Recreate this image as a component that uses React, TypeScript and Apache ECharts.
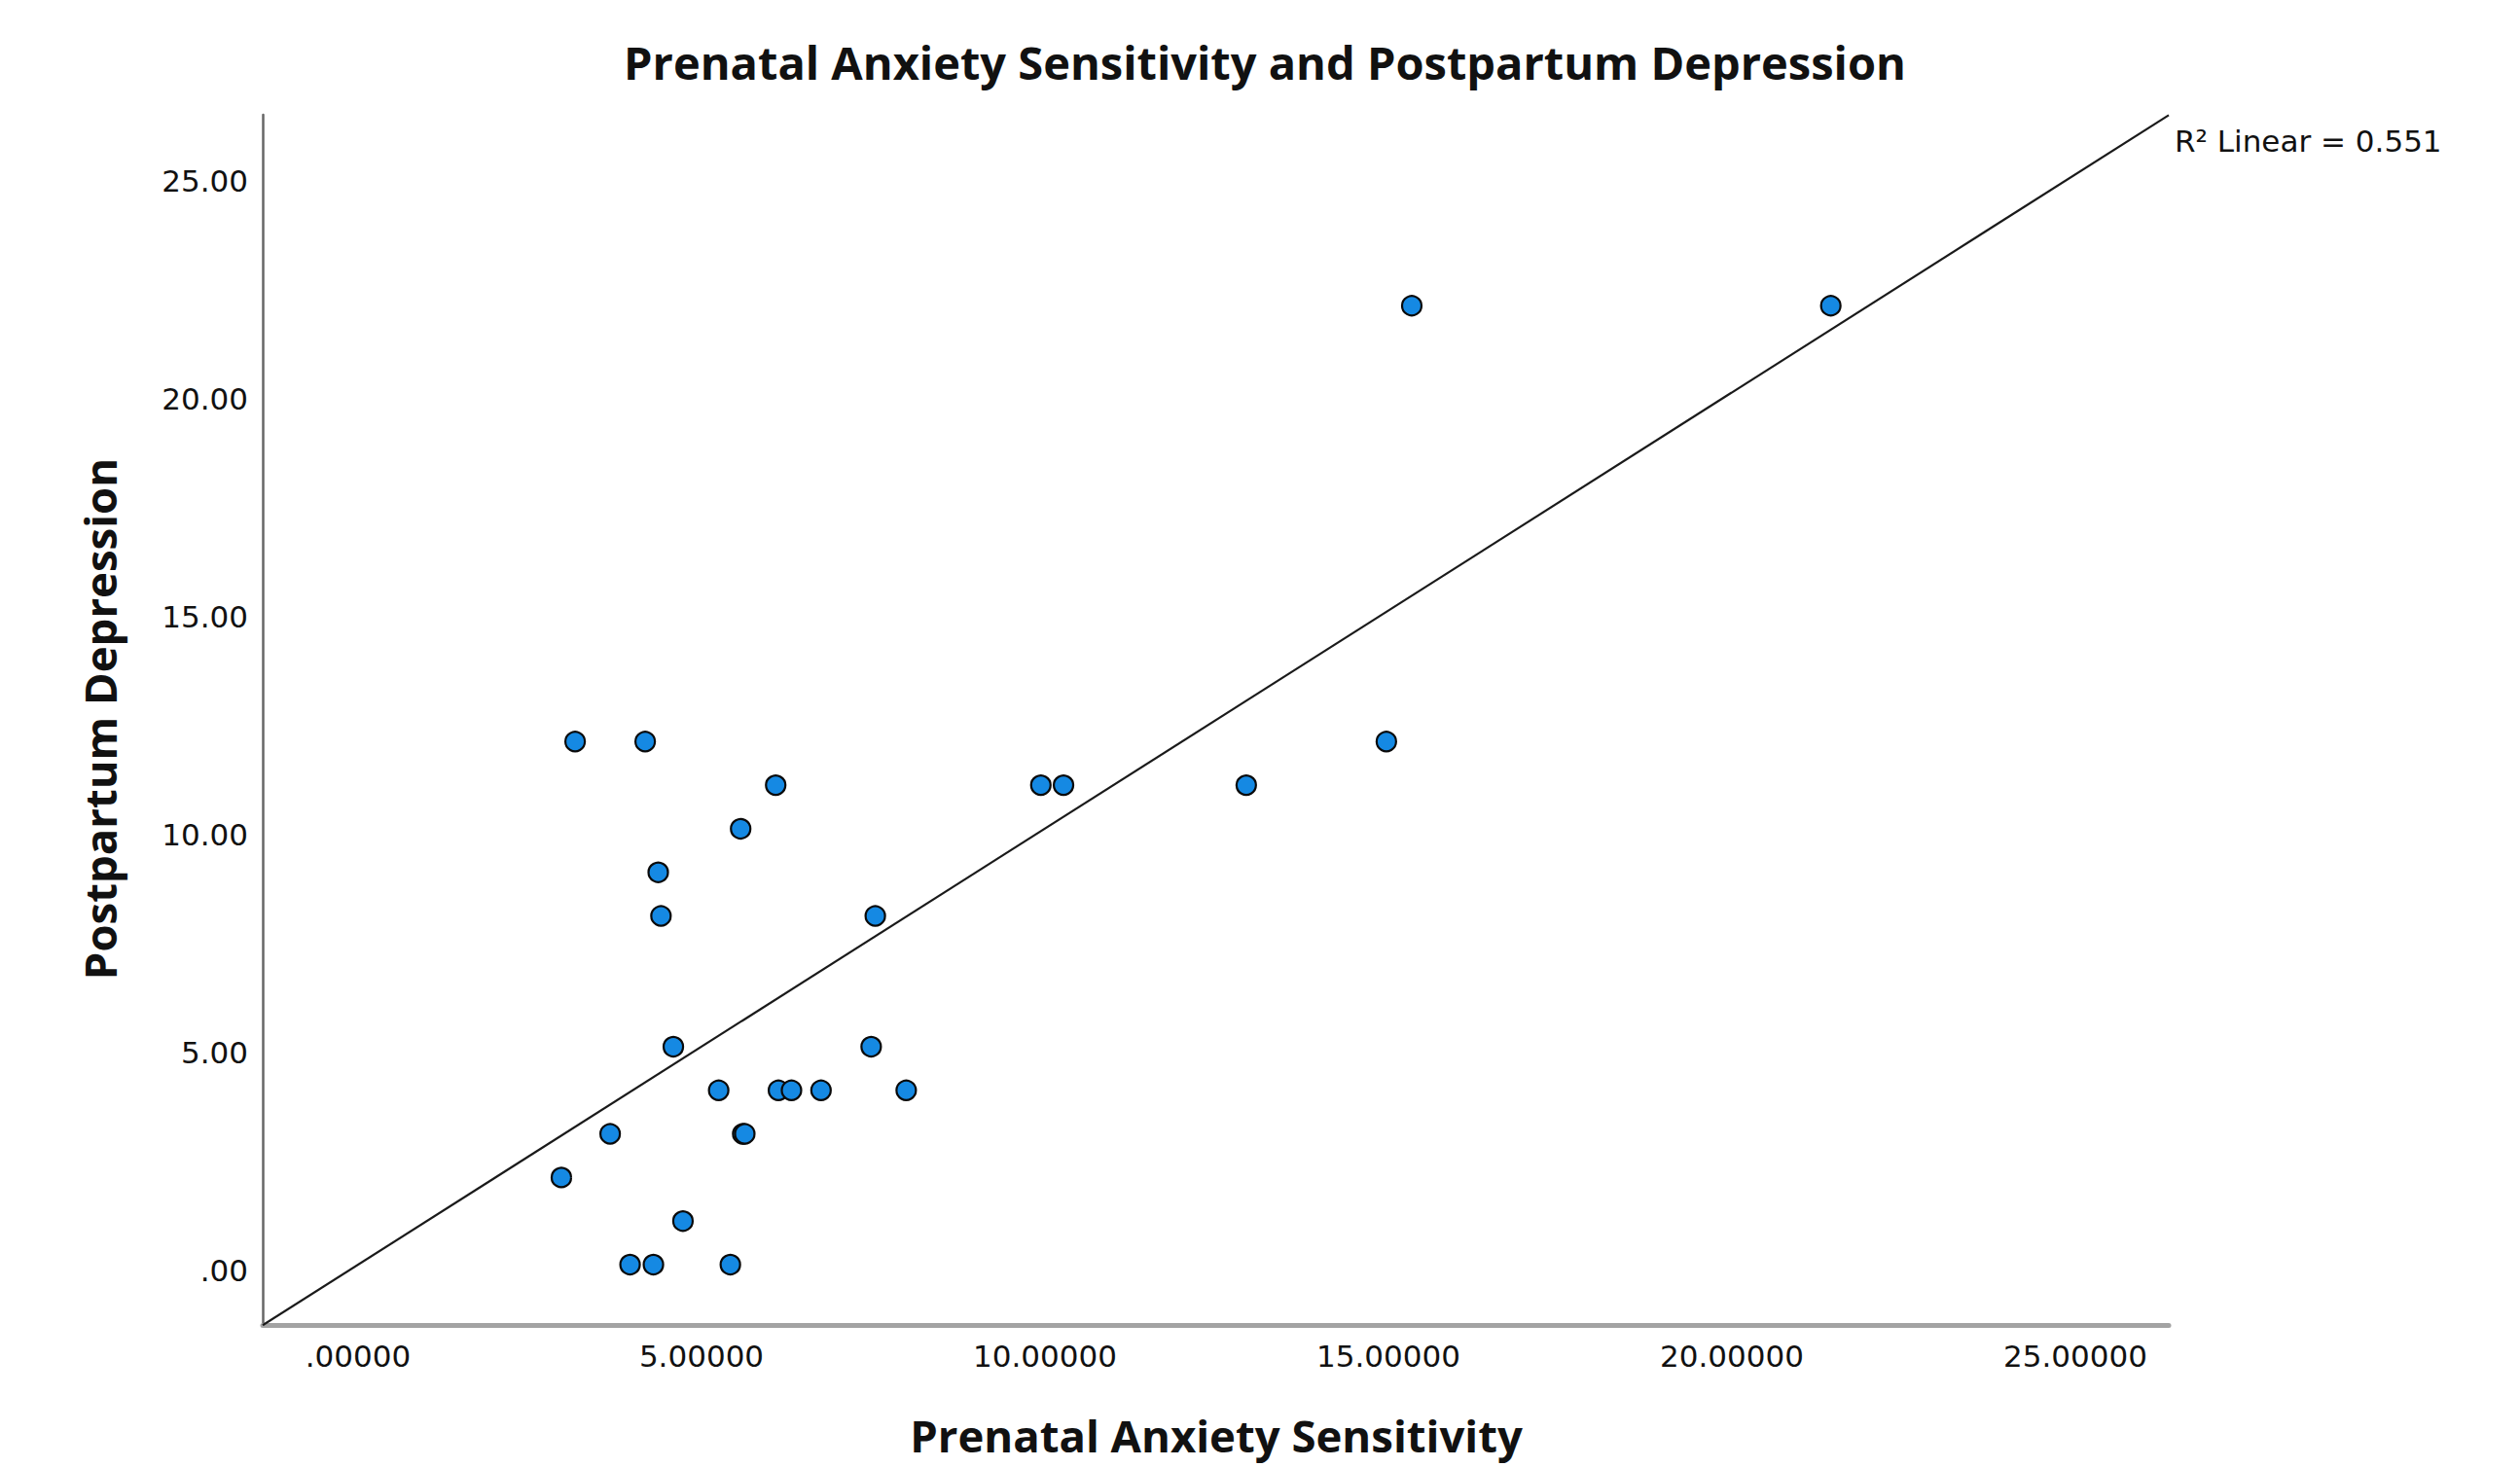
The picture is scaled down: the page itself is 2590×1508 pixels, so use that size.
import { useEffect, useRef } from "react";
import * as echarts from "echarts";

const chartTitle = "Prenatal Anxiety Sensitivity and Postpartum Depression";
const xAxisTitle = "Prenatal Anxiety Sensitivity";
const yAxisTitle = "Postpartum Depression";
const fitLabel = "R² Linear = 0.551";

const anxietySensitivity = [
  2.96, 3.16, 3.67, 3.96, 4.18, 4.3, 4.37, 4.41, 4.59, 4.73, 5.25, 5.42, 5.57, 5.6,
  5.63, 6.08, 6.12, 6.31, 6.74, 7.47, 7.53, 7.98, 9.94, 10.27, 12.93, 14.97, 15.34, 21.44,
];
const postpartumDepression = [
  2, 12, 3, 0, 12, 0, 9, 8, 5, 1, 4, 0, 10, 3, 3, 11, 4, 4, 4, 5, 8, 4, 11, 11, 11, 12, 22, 22,
];

const X_MIN = -1.388;
const X_MAX = 26.36;
const Y_MIN = -1.384;
const Y_MAX = 26.38;
const TICK_STEP = 5;

function fit(xs: number[], ys: number[]) {
  const n = xs.length;
  const mx = xs.reduce((a, b) => a + b, 0) / n;
  const my = ys.reduce((a, b) => a + b, 0) / n;
  let sxy = 0;
  let sxx = 0;
  for (let i = 0; i < n; i++) {
    sxy += (xs[i] - mx) * (ys[i] - my);
    sxx += (xs[i] - mx) * (xs[i] - mx);
  }
  const slope = sxy / sxx;
  return { slope, intercept: my - slope * mx };
}

function fmt(v: number, digits: number) {
  if (Math.abs(v / TICK_STEP - Math.round(v / TICK_STEP)) > 1e-6) return "";
  const s = v.toFixed(digits);
  return s.startsWith("0.") ? s.slice(1) : s;
}

export default function App() {
  const ref = useRef<HTMLDivElement>(null);
  useEffect(() => {
    document.body.style.margin = "0";
    if (!ref.current) return;
    const chart = echarts.init(ref.current, null, { renderer: "svg" });
    const { slope, intercept } = fit(anxietySensitivity, postpartumDepression);
    const points = anxietySensitivity.map((x, i) => [x, postpartumDepression[i]]);
    const lineData = [
      [X_MIN, intercept + slope * X_MIN],
      [X_MAX, intercept + slope * X_MAX],
    ];
    const titleStyle = {
      fontFamily: "Open Sans",
      fontWeight: "bold",
      fill: "#111111",
      align: "center",
      verticalAlign: "middle",
      textAlign: "center",
      textVerticalAlign: "middle",
    };
    chart.setOption({
      animation: false,
      backgroundColor: "#ffffff",
      grid: { left: 270, top: 118, width: 1959, height: 1244, containLabel: false },
      xAxis: {
        type: "value",
        min: X_MIN,
        max: X_MAX,
        splitNumber: 5,
        axisLine: { show: true, onZero: false, lineStyle: { color: "#a3a3a3", width: 5 } },
        axisTick: { show: false },
        splitLine: { show: false },
        axisLabel: {
          showMinLabel: false,
          showMaxLabel: false,
          margin: 16,
          color: "#111111",
          fontFamily: "DejaVu Sans",
          fontSize: 31,
          formatter: (v: number) => fmt(v, 5),
        },
      },
      yAxis: {
        type: "value",
        min: Y_MIN,
        max: Y_MAX,
        splitNumber: 5,
        axisLine: { show: true, onZero: false, lineStyle: { color: "#666666", width: 2.5 } },
        axisTick: { show: false },
        splitLine: { show: false },
        axisLabel: {
          showMinLabel: false,
          showMaxLabel: false,
          margin: 15,
          verticalAlign: "top",
          lineHeight: 12,
          color: "#111111",
          fontFamily: "DejaVu Sans",
          fontSize: 31,
          formatter: (v: number) => fmt(v, 2),
        },
      },
      series: [
        {
          type: "scatter",
          data: points,
          symbol: "circle",
          symbolSize: 20,
          z: 2,
          itemStyle: { color: "#1589e3", borderColor: "#0a0a0a", borderWidth: 2.2, opacity: 1 },
        },
        {
          type: "line",
          data: lineData,
          showSymbol: false,
          symbol: "none",
          clip: true,
          z: 3,
          lineStyle: { color: "#1a1a1a", width: 2.2 },
        },
      ],
      graphic: [
        {
          type: "text",
          x: 1300,
          y: 64,
          style: { ...titleStyle, text: chartTitle, fontSize: 47 },
        },
        {
          type: "text",
          x: 1250,
          y: 1475,
          style: { ...titleStyle, text: xAxisTitle, fontSize: 45.5 },
        },
        {
          type: "text",
          x: 102,
          y: 739,
          rotation: Math.PI / 2,
          style: { ...titleStyle, text: yAxisTitle, fontSize: 45.5 },
        },
        {
          type: "text",
          x: 2235,
          y: 145,
          style: {
            text: fitLabel,
            fontFamily: "DejaVu Sans",
            fontSize: 31,
            fill: "#111111",
            align: "left",
            verticalAlign: "middle",
            textAlign: "left",
            textVerticalAlign: "middle",
          },
        },
      ],
    });
    return () => chart.dispose();
  }, []);
  return <div ref={ref} style={{ width: 2590, height: 1508 }} />;
}
